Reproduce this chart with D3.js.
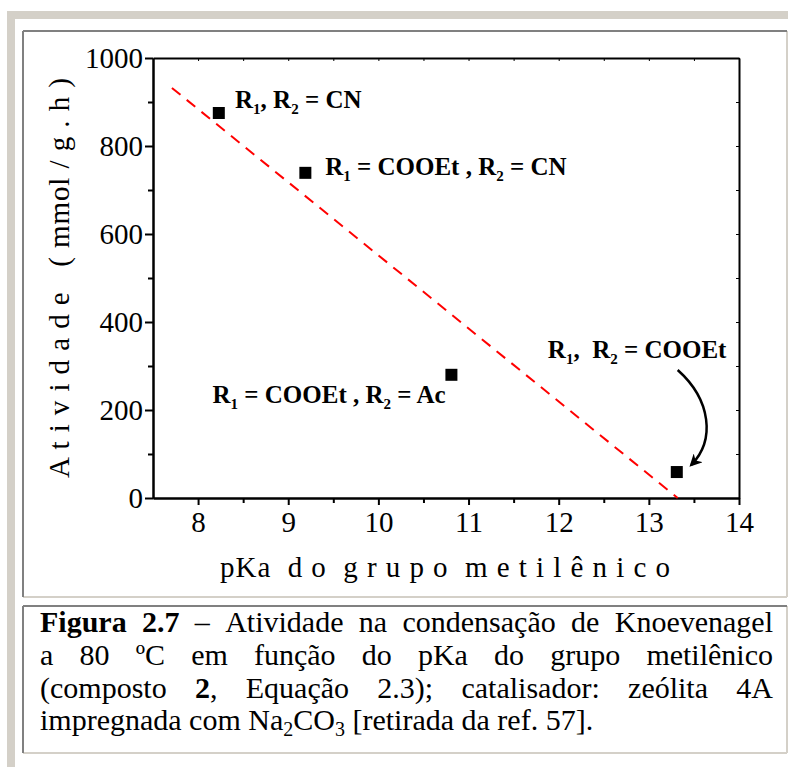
<!DOCTYPE html>
<html><head><meta charset="utf-8">
<script src="https://cdn.jsdelivr.net/npm/d3@7"></script>
<style>
html,body{margin:0;padding:0;background:#fff;}
svg{display:block;}
text{font-family:"Liberation Serif","Times New Roman",serif;}
</style></head>
<body>
<script>
// ---- data ----
const pKa = [8.23, 9.19, 10.81, 13.31];
const activity = [875, 739, 280, 59];
const xTicks = [8, 9, 10, 11, 12, 13, 14];
const xMinorTicks = [8.5, 9.5, 10.5, 11.5, 12.5, 13.5];
const yTicks = [0, 200, 400, 600, 800, 1000];
const yMinorTicks = [100, 300, 500, 700, 900];
const fitX = [7.71, 13.32];
const fitY = [932, 0];
// point labels: parts [text, isSubscript], anchor in data units
const labelParts = [
  [["R",0],["1",1],[", R",0],["2",1],[" = CN",0]],
  [["R",0],["1",1],[" = COOEt , R",0],["2",1],[" = CN",0]],
  [["R",0],["1",1],[" = COOEt , R",0],["2",1],[" = Ac",0]],
  [["R",0],["1",1],[",  R",0],["2",1],[" = COOEt",0]]
];
const labelX = [8.41, 9.41, 8.16, 11.88];
const labelY = [886, 734, 216, 318];
// curved arrow (data units): start, control1, control2, end
const arrowX = [13.32, 13.69, 13.74, 13.47];
const arrowY = [291, 223, 132, 75];
const xTitle = "pKa  d o  g r u p o  m e t i l ê n i c o";
const yTitle = "A t i v i d a d e   ( mmol / g . h )";
const captionLines = [
  [[["Figura",1]],[["2.7",1]],[["–",0]],[["Atividade",0]],[["na",0]],[["condensação",0]],[["de",0]],[["Knoevenagel",0]]],
  [[["a",0]],[["80",0]],[["ºC",0]],[["em",0]],[["função",0]],[["do",0]],[["pKa",0]],[["do",0]],[["grupo",0]],[["metilênico",0]]],
  [[["(composto",0]],[["2",1],[",",0]],[["Equação",0]],[["2.3);",0]],[["catalisador:",0]],[["zeólita",0]],[["4A",0]]]
];
const captionLast = [["impregnada com Na",0],["2",2],["CO",0],["3",2],[" [retirada da ref. 57].",0]];

// ---- drawing ----
const W = 788, H = 767;
const svg = d3.select("body").append("svg").attr("width", W).attr("height", H);
svg.append("rect").attr("width", W).attr("height", H).attr("fill", "#fff");
svg.append("rect").attr("x", 7).attr("y", 11).attr("width", W - 7).attr("height", H - 11).attr("fill", "#d4d0c8");
svg.append("rect").attr("x", 15).attr("y", 19).attr("width", W - 15).attr("height", H - 19).attr("fill", "#fff");

function bevelBox(x0, y0, x1, y1) {
  const g = svg.append("g").attr("stroke-width", 2).attr("fill", "none");
  g.append("line").attr("x1", x0).attr("y1", y1).attr("x2", x1).attr("y2", y1).attr("stroke", "#d4d0c8");
  g.append("line").attr("x1", x1).attr("y1", y0).attr("x2", x1).attr("y2", y1).attr("stroke", "#d4d0c8");
  g.append("line").attr("x1", x0).attr("y1", y0).attr("x2", x1).attr("y2", y0).attr("stroke", "#808080");
  g.append("line").attr("x1", x0).attr("y1", y0).attr("x2", x0).attr("y2", y1).attr("stroke", "#808080");
}
bevelBox(23, 31, 787, 597);
bevelBox(23, 606, 787, 753);

const x = d3.scaleLinear().domain([7.5, 14]).range([153, 739]);
const y = d3.scaleLinear().domain([0, 1000]).range([498, 58]);

const axG = svg.append("g");
function styleAxis(g) {
  g.attr("font-family", null);
  g.selectAll("path.domain").attr("stroke", "#000").attr("stroke-width", 2);
  g.selectAll(".tick line").attr("stroke", "#000").attr("stroke-width", 2);
  g.selectAll(".tick text").attr("font-size", 29).attr("fill", "#000");
}
// bottom
const gb = axG.append("g").attr("transform", `translate(0,${y(0)})`)
  .call(d3.axisBottom(x).tickValues(xTicks).tickSize(7).tickSizeOuter(0).tickPadding(6).tickFormat(d3.format("d")));
styleAxis(gb);
const gbm = axG.append("g").attr("transform", `translate(0,${y(0)})`)
  .call(d3.axisBottom(x).tickValues(xMinorTicks).tickSize(5).tickSizeOuter(0).tickFormat(""));
styleAxis(gbm);
// left
const gl = axG.append("g").attr("transform", `translate(${x(7.5)},0)`)
  .call(d3.axisLeft(y).tickValues(yTicks).tickSize(8).tickSizeOuter(0).tickPadding(2).tickFormat(d3.format("d")));
styleAxis(gl);
const glm = axG.append("g").attr("transform", `translate(${x(7.5)},0)`)
  .call(d3.axisLeft(y).tickValues(yMinorTicks).tickSize(5).tickSizeOuter(0).tickFormat(""));
styleAxis(glm);
// top (inward ticks)
const gt = axG.append("g").attr("transform", `translate(0,${y(1000)})`)
  .call(d3.axisBottom(x).tickValues(xTicks.concat(xMinorTicks)).tickSize(3).tickSizeOuter(0).tickFormat(""));
styleAxis(gt);
gt.selectAll(".tick line").attr("stroke-width", 1);
// right (inward ticks)
const gr = axG.append("g").attr("transform", `translate(${x(14)},0)`)
  .call(d3.axisLeft(y).tickValues(yTicks.concat(yMinorTicks)).tickSize(3).tickSizeOuter(0).tickFormat(""));
styleAxis(gr);
gr.selectAll(".tick line").attr("stroke-width", 1);

// axis titles
svg.append("text").attr("x", 445).attr("y", 577)
  .attr("text-anchor", "middle").attr("font-size", 29).attr("textLength", 450).attr("lengthAdjust", "spacing")
  .style("white-space", "pre").text(xTitle);
svg.append("text").attr("transform", `translate(69,278) rotate(-90)`)
  .attr("text-anchor", "middle").attr("font-size", 29).attr("textLength", 400).attr("lengthAdjust", "spacing")
  .style("white-space", "pre").text(yTitle);

// fit line
svg.append("line").attr("x1", x(fitX[0])).attr("y1", y(fitY[0])).attr("x2", x(fitX[1])).attr("y2", y(fitY[1]))
  .attr("stroke", "#ff0000").attr("stroke-width", 2).attr("stroke-dasharray", "11,8");

// points
const sq = 12;
svg.append("g").selectAll("rect").data(pKa).join("rect")
  .attr("x", (d) => x(d) - sq / 2).attr("y", (d, i) => y(activity[i]) - sq / 2)
  .attr("width", sq).attr("height", sq).attr("fill", "#000");

// labels
labelParts.forEach((parts, i) => {
  const t = svg.append("text").attr("x", x(labelX[i])).attr("y", y(labelY[i]))
    .attr("font-size", 25).attr("font-weight", "bold").style("white-space", "pre");
  let down = false;
  parts.forEach(([s, sub]) => {
    const ts = t.append("tspan").text(s);
    if (sub) { ts.attr("font-size", 15).attr("dy", 6); down = true; }
    else if (down) { ts.attr("dy", -6); down = false; }
  });
});

// arrow
svg.append("defs").append("marker").attr("id", "ah").attr("viewBox", "0 0 10 10")
  .attr("refX", 8).attr("refY", 5).attr("markerWidth", 5).attr("markerHeight", 5)
  .attr("markerUnits", "strokeWidth").attr("orient", "auto")
  .append("path").attr("d", "M0,0 L10,5 L0,10 L3,5 Z").attr("fill", "#000");
const ap = d3.path();
ap.moveTo(x(arrowX[0]), y(arrowY[0]));
ap.bezierCurveTo(x(arrowX[1]), y(arrowY[1]), x(arrowX[2]), y(arrowY[2]), x(arrowX[3]), y(arrowY[3]));
svg.append("path").attr("d", ap.toString()).attr("fill", "none").attr("stroke", "#000")
  .attr("stroke-width", 2.5).attr("marker-end", "url(#ah)");

// caption
const capX0 = 40, capX1 = 773, capFS = 30;
const capBase = [632, 665, 698, 730];
captionLines.forEach((words, li) => {
  const els = words.map((parts) => {
    const t = svg.append("text").attr("y", capBase[li]).attr("font-size", capFS);
    parts.forEach(([s, b]) => t.append("tspan").attr("font-weight", b ? "bold" : "normal").text(s));
    return t;
  });
  const widths = els.map((t) => t.node().getComputedTextLength());
  const total = d3.sum(widths);
  const gap = (capX1 - capX0 - total) / (els.length - 1);
  let cx = capX0;
  els.forEach((t, k) => { t.attr("x", cx); cx += widths[k] + gap; });
});
const last = svg.append("text").attr("x", capX0).attr("y", capBase[3]).attr("font-size", capFS).style("white-space", "pre");
let shifted = false;
captionLast.forEach(([s, sub]) => {
  const ts = last.append("tspan").text(s);
  if (sub === 2) { ts.attr("font-size", 20).attr("dy", shifted ? 0 : 6); shifted = true; }
  else if (shifted) { ts.attr("dy", -6); shifted = false; }
});
</script>
</body></html>
